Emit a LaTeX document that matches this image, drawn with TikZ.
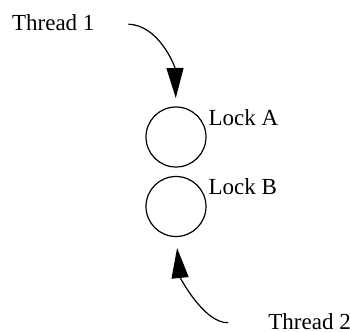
\documentclass[tikz,border=0pt]{standalone}
\usepackage{fontspec}
\setmainfont{Liberation Serif}
\usepackage{tikz}
\usetikzlibrary{arrows.meta}
\usetikzlibrary{positioning}

\begin{document}
\begin{tikzpicture}
[
	x								= 0.5pt,
	y								= -0.5pt,
	%
	every node/.style				=
	{
		inner sep					= 0pt,
		font						= \fontsize{11.5}{14}\selectfont
	},
	%
	% lock | lock name | thread arrow
	lock/.style						=
	{
		draw,
		circle,
		line width					= 0.6pt,
		minimum size				= 30pt
	},
	lockname/.style					= {anchor = base west},
	threadarrow/.style				=
	{
		line width					= 0.6pt,
		-{Triangle[length=15pt, width=8.5pt]}
	},
]
	\useasboundingbox (0,0) rectangle (350,332);
	
	\node (thread1) [anchor = base west] at (11.7,31) {Thread 1};
	\node (thread2) [anchor = base west] at (268,329.3) {Thread 2};
	
	\node (lockA) [lock] at (176,137) {};
	\node (lockB) [lock] at (176,206.5) {};
	
	\node (lockAname) [lockname] at (208.3,125.7) {Lock A};
	\node (lockBname) [lockname] at (208.3,195) {Lock B};
	
	\draw [threadarrow, shorten <= 16.8pt, shorten >= 4.2pt]
		(thread1.east) .. controls +(64,2) and +(-1,-40) .. (lockA.north);
	\draw [threadarrow, shorten <= 20pt, shorten >= 5.5pt]
		(thread2.west) .. controls +(-64,2) and +(4,40) .. (lockB.south);

\end{tikzpicture}
\end{document}
